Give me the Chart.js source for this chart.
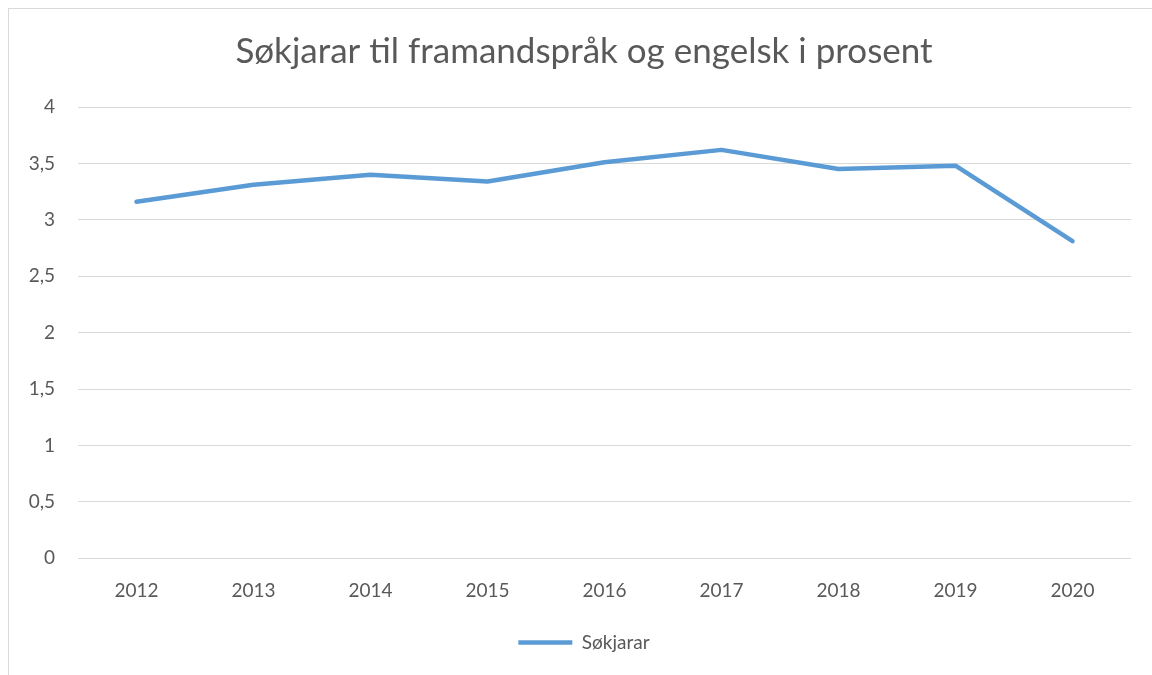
<!DOCTYPE html>
<html>
<head>
<meta charset="utf-8">
<script src="https://cdn.jsdelivr.net/npm/chart.js@4/dist/chart.umd.min.js"></script>
<style>
    html, body { margin: 0; padding: 0; background: #fff; overflow: hidden; }
    #frame {
        position: absolute; left: 8px; top: 8px; width: 1160px; height: 680px;
        border: 1px solid #d9d9d9; box-sizing: border-box;
    }
    #wrap { position: absolute; left: 0; top: 0; width: 1152px; height: 675px; }
</style>
</head>
<body>
<div id="frame"></div>
<div id="wrap"><canvas id="lineChart" width="1152" height="675"></canvas></div>
<script>
const years = ['2012', '2013', '2014', '2015', '2016', '2017', '2018', '2019', '2020'];
const sokjarar = [3.16, 3.31, 3.40, 3.34, 3.51, 3.62, 3.45, 3.48, 2.81];
const yTicks = [0, 0.5, 1, 1.5, 2, 2.5, 3, 3.5, 4];

document.addEventListener('DOMContentLoaded', function () {
    const textColor = '#595959';
    const ctx = document.getElementById('lineChart').getContext('2d');

    // move title and legend a bit right so they sit centred like the reference
    const centreShift = {
        id: 'centreShift',
        afterLayout: function (chart) {
            [chart.titleBlock, chart.legend].forEach(function (box) {
                if (!box) return;
                box.left += 18.5;
                box.right += 18.5;
            });
        }
    };

    new Chart(ctx, {
        type: 'line',
        data: {
            labels: years,
            datasets: [{
                label: 'Søkjarar',
                data: sokjarar,
                borderColor: '#5B9BD5',
                backgroundColor: '#5B9BD5',
                borderWidth: 4.5,
                borderCapStyle: 'round',
                borderJoinStyle: 'round',
                pointRadius: 0,
                pointHoverRadius: 0,
                pointStyle: 'line',
                tension: 0
            }]
        },
        options: {
            responsive: false,
            animation: false,
            layout: { padding: { left: 0, right: 21, top: 0, bottom: 13 } },
            plugins: {
                title: {
                    display: true,
                    text: 'Søkjarar til framandspråk og engelsk i prosent',
                    color: textColor,
                    font: { family: 'Lato', size: 35, weight: 'normal' },
                    padding: { top: 31, bottom: 34 }
                },
                legend: {
                    position: 'bottom',
                    labels: {
                        color: textColor,
                        font: { family: 'Lato', size: 19 },
                        usePointStyle: true,
                        pointStyle: 'line',
                        pointStyleWidth: 54,
                        padding: 10
                    }
                },
                tooltip: { enabled: false }
            },
            scales: {
                x: {
                    offset: true,
                    grid: { display: false, drawTicks: false },
                    border: { display: false },
                    ticks: {
                        color: textColor,
                        font: { family: 'Lato', size: 19 },
                        padding: 21
                    }
                },
                y: {
                    min: 0,
                    max: 4,
                    afterBuildTicks: function (scale) {
                        scale.ticks = yTicks.map(v => ({ value: v }));
                    },
                    afterFit: function (scale) { scale.width = 78; },
                    grid: { color: '#d9d9d9', lineWidth: 1, drawTicks: false },
                    border: { display: false },
                    ticks: {
                        color: textColor,
                        font: { family: 'Lato', size: 19 },
                        padding: 23,
                        callback: function (value) {
                            return String(value).replace('.', ',');
                        }
                    }
                }
            }
        },
        plugins: [centreShift]
    });
});
</script>
</body>
</html>
